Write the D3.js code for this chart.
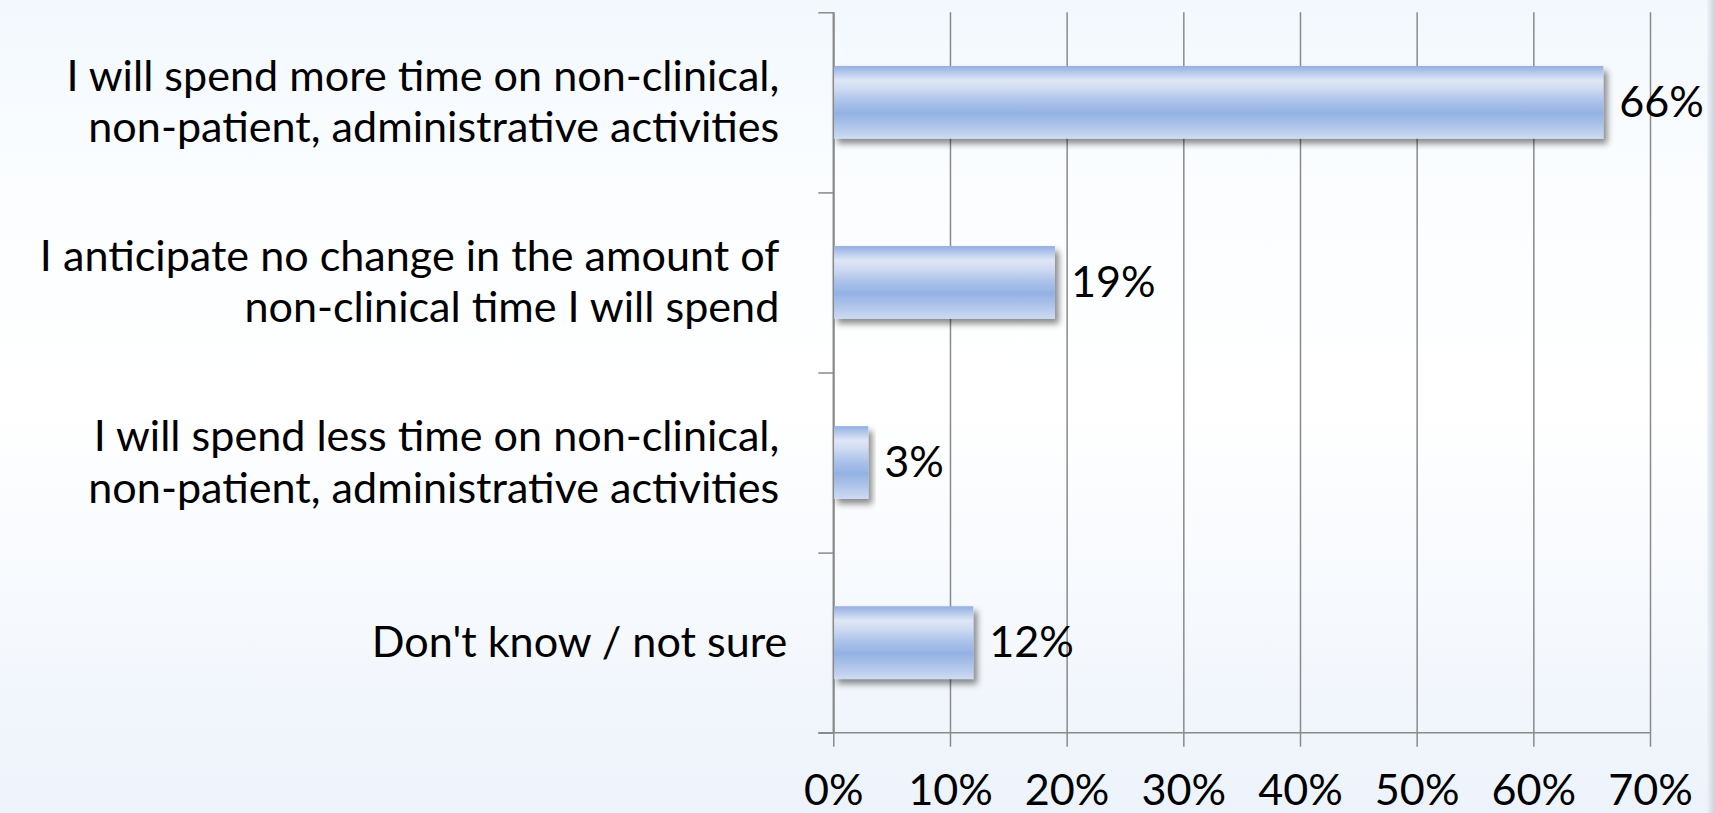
<!DOCTYPE html>
<html><head><meta charset="utf-8">
<script src="https://cdn.jsdelivr.net/npm/d3@7"></script>
<style>html,body{margin:0;padding:0;overflow:hidden;background:#fff}</style>
</head><body><svg id="c" width="1715" height="813"></svg>
<script>
// ---- data ----
const categories = [
  "I will spend more time on non-clinical, non-patient, administrative activities",
  "I anticipate no change in the amount of non-clinical time I will spend",
  "I will spend less time on non-clinical, non-patient, administrative activities",
  "Don't know / not sure"
];
const categoryLines = [
  ["I will spend more time on non-clinical,", "non-patient, administrative activities"],
  ["I anticipate no change in the amount of", "non-clinical time I will spend"],
  ["I will spend less time on non-clinical,", "non-patient, administrative activities"],
  ["Don't know / not sure"]
];
const values = [0.66, 0.19, 0.03, 0.12];
const valueLabels = ["66%", "19%", "3%", "12%"];
const xTicks = [0, 0.1, 0.2, 0.3, 0.4, 0.5, 0.6, 0.7];
const xTickLabels = ["0%", "10%", "20%", "30%", "40%", "50%", "60%", "70%"];

// ---- layout ----
const W = 1715, H = 813;
const plot = {left: 833.3, right: 1650, top: 12.3, bottom: 732.7};
const FONT = "Lato, 'Open Sans', sans-serif";
const svg = d3.select("#c");

// fit font size so the widest category line matches reference width
const probe = svg.append("text").attr("font-family", FONT).attr("font-size", 47.5)
  .text(categoryLines[0][0]);
const measured = probe.node().getComputedTextLength();
probe.remove();
const fs = 47.5 * 713 / measured;

const defs = svg.append("defs");
const bg = defs.append("linearGradient").attr("id", "bg").attr("x1", 0).attr("y1", 0).attr("x2", 0).attr("y2", 1);
[[0, "#f2f8fd"], [0.22, "#fbfdff"], [0.5, "#ffffff"], [1, "#edf3fb"]].forEach(([o, c]) =>
  bg.append("stop").attr("offset", o).attr("stop-color", c));
const edge = defs.append("linearGradient").attr("id", "edge").attr("x1", 0).attr("y1", 0).attr("x2", 1).attr("y2", 0);
[[0, "#eef2f7"], [1, "#c9d1dc"]].forEach(([o, c]) =>
  edge.append("stop").attr("offset", o).attr("stop-color", c));
const barG = defs.append("linearGradient").attr("id", "bar").attr("x1", 0).attr("y1", 0).attr("x2", 0).attr("y2", 1);
[[0, "#91aee2"], [0.08, "#b2c6eb"], [0.2, "#dfe7f6"], [0.32, "#cddaf1"], [0.48, "#adc3ea"], [0.65, "#93b2e3"], [0.82, "#aec4ea"], [1, "#cedbf2"]]
  .forEach(([o, c]) => barG.append("stop").attr("offset", o).attr("stop-color", c));
const sh = defs.append("filter").attr("id", "shadow").attr("x", "-10%").attr("y", "-20%").attr("width", "130%").attr("height", "160%");
sh.append("feDropShadow").attr("dx", 4).attr("dy", 5).attr("stdDeviation", 3)
  .attr("flood-color", "#000").attr("flood-opacity", 0.45);

svg.append("rect").attr("width", W).attr("height", H).attr("fill", "url(#bg)");
svg.append("rect").attr("x", 1707).attr("width", 8).attr("height", H).attr("fill", "url(#edge)");

const x = d3.scaleLinear().domain([0, 0.7]).range([plot.left, plot.right]);
const y = d3.scaleBand().domain(categories).range([plot.top, plot.bottom])
  .paddingInner(0.596).paddingOuter(0.298);
const yEdges = d3.scaleLinear().domain([0, categories.length]).range([plot.top, plot.bottom]);

const axisColor = "#8a8a8a";
// vertical gridlines (extend below the axis as tick marks)
const xAxis = d3.axisBottom(x).tickValues(xTicks).tickFormat((d, i) => xTickLabels[i])
  .tickSizeInner(-(plot.bottom - plot.top)).tickSizeOuter(0).tickPadding(0);
const gx = svg.append("g").attr("transform", `translate(0,${plot.bottom})`).call(xAxis);
gx.select(".domain").remove();
gx.selectAll(".tick line").attr("stroke", axisColor).attr("stroke-width", 1.5)
  .attr("y1", 14);
gx.selectAll(".tick text").attr("font-family", FONT).attr("font-size", fs)
  .attr("fill", "#000").attr("y", 0).attr("dy", 0)
  .attr("transform", "translate(0,72)");

// bottom axis line
svg.append("line").attr("x1", plot.left - 15).attr("x2", plot.right)
  .attr("y1", plot.bottom).attr("y2", plot.bottom).attr("stroke", axisColor).attr("stroke-width", 1.5);

// left category axis with boundary ticks
const yAxis = d3.axisLeft(yEdges).tickValues(d3.range(categories.length + 1))
  .tickFormat("").tickSizeInner(15).tickSizeOuter(0);
const gy = svg.append("g").attr("transform", `translate(${plot.left},0)`).call(yAxis);
gy.select(".domain").attr("stroke", axisColor).attr("stroke-width", 1.5);
gy.selectAll(".tick line").attr("stroke", axisColor).attr("stroke-width", 1.5);

// bars
svg.append("g").selectAll("rect").data(values).join("rect")
  .attr("x", x(0))
  .attr("y", (d, i) => y(categories[i]))
  .attr("width", d => x(d) - x(0))
  .attr("height", y.bandwidth())
  .attr("fill", "url(#bar)")
  .attr("filter", "url(#shadow)");

// redraw left axis line above bars
svg.append("line").attr("x1", plot.left).attr("x2", plot.left)
  .attr("y1", plot.top).attr("y2", plot.bottom).attr("stroke", axisColor).attr("stroke-width", 1.5);

// value labels
svg.append("g").selectAll("text").data(values).join("text")
  .attr("x", d => x(d) + 16)
  .attr("y", (d, i) => y(categories[i]) + y.bandwidth() / 2 + 0.33 * fs)
  .attr("font-family", FONT).attr("font-size", fs).attr("fill", "#000")
  .text((d, i) => valueLabels[i]);

// category labels
const lineH = 51.5;
const labG = svg.append("g");
categoryLines.forEach((lines, i) => {
  const cy = y(categories[i]) + y.bandwidth() / 2;
  const xr = lines.length > 1 ? plot.left - 54 : plot.left - 46;
  const t = labG.append("text").attr("text-anchor", "end")
    .attr("font-family", FONT).attr("font-size", fs).attr("fill", "#000");
  lines.forEach((ln, j) => {
    t.append("tspan").attr("x", xr)
      .attr("y", cy + (j - (lines.length - 1) / 2) * lineH + 0.33 * fs)
      .text(ln);
  });
});
</script></body></html>
